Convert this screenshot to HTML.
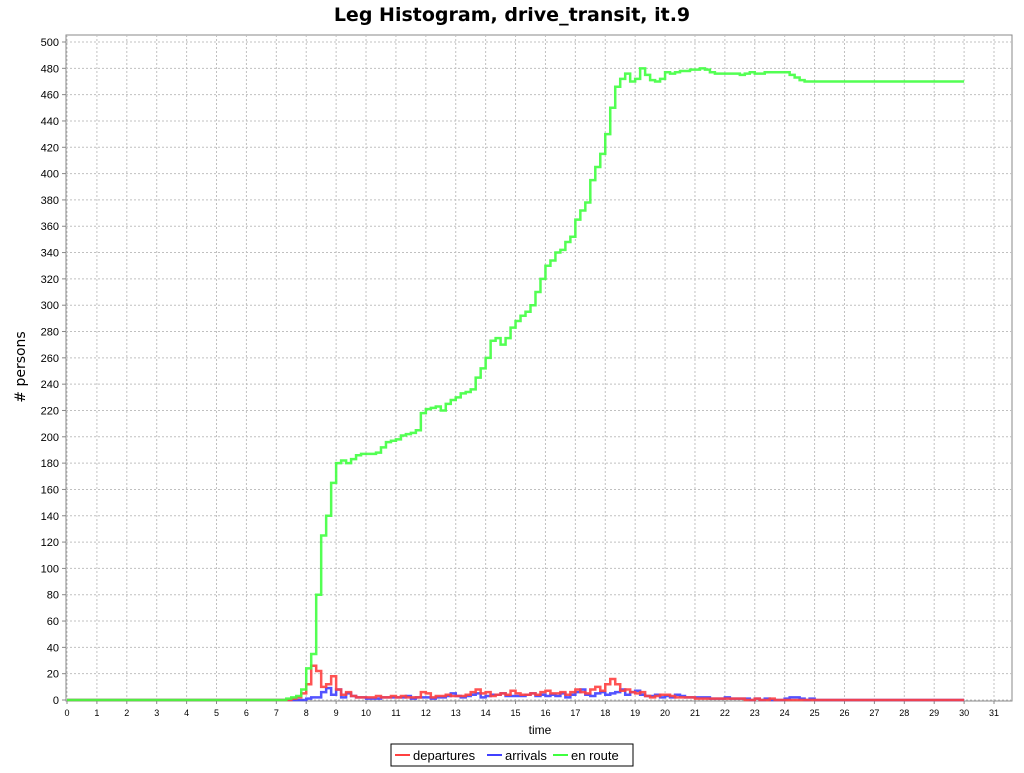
<!DOCTYPE html>
<html><head><meta charset="utf-8"><style>
body{margin:0;background:#fff;font-family:"Liberation Sans",sans-serif}
svg text{font-family:"Liberation Sans",sans-serif}
</style></head><body>
<svg id="c" width="1024" height="768">
<text x="512" y="21" text-anchor="middle" font-size="19" font-weight="bold" style="font-family:'DejaVu Sans',sans-serif">Leg Histogram, drive_transit, it.9</text>
<g id="grid"></g><g id="axes"></g><g id="series"></g>
<text x="540" y="734" text-anchor="middle" font-size="12">time</text>
<text transform="translate(25,367) rotate(-90)" text-anchor="middle" font-size="14" style="font-family:'DejaVu Sans',sans-serif"># persons</text>
<g>
<rect x="391" y="744" width="242" height="22" fill="#fff" stroke="#000" stroke-width="1"/>
<g><line x1="395" y1="755" x2="410" y2="755" stroke="#ff4040" stroke-width="2"/><text x="413" y="760" font-size="13">departures</text></g>
<g><line x1="487" y1="755" x2="502" y2="755" stroke="#4040ff" stroke-width="2"/><text x="505" y="760" font-size="13">arrivals</text></g>
<g><line x1="553" y1="755" x2="568" y2="755" stroke="#40ff40" stroke-width="2"/><text x="571" y="760" font-size="13">en route</text></g>
</g>
</svg>
<script>
const binHours = 1/6, startHour = 7, endHour = 30;
const enRoute = [0,0,1,2,3,8, 24,35,80,125,140,165, 180,182,180,183,186,187, 187,187,188,192,196,197, 198,201,202,203,205,218, 221,222,223,220,225,228, 230,233,234,236,245,252, 260,273,275,270,275,283, 288,292,295,300,310,320, 330,334,340,342,348,352, 365,372,378,395,405,415, 430,450,466,472,476,470, 472,480,475,471,470,472, 477,476,477,478,478,479, 479,480,479,477,476,476, 476,476,476,475,476,477, 476,476,477,477,477,477, 477,475,473,471,470,470, 470,470,470,470,470,470, 470,470,470,470,470,470, 470,470,470,470,470,470, 470,470,470,470,470,470, 470,470,470,470,470,470];
const departures = [0,0,0,1,2,5, 12,26,22,10,12,18, 8,4,6,3,2,2, 2,2,3,2,2,3, 2,3,2,2,2,6, 5,2,3,3,4,3, 3,3,4,6,8,5, 6,3,4,5,4,7, 5,4,4,5,4,6, 7,5,5,6,4,6, 8,6,5,8,10,7, 12,16,12,7,8,6, 5,6,3,2,3,4, 4,3,2,2,2,2, 1,1,1,1,1,1, 1,1,1,1,0,0, 1,0,0,1,0,0, 0,0,0,0,0,0];
const arrivals = [0,0,0,0,0,0, 1,2,2,6,9,4, 8,2,5,3,2,2, 1,1,1,2,2,2, 2,2,3,1,2,2, 2,1,2,2,3,5, 3,2,3,4,5,2, 3,4,4,5,3,3, 3,3,4,5,3,4, 3,4,3,5,2,4, 6,8,4,3,5,6, 4,5,6,8,4,6, 7,4,3,3,4,2, 3,2,4,3,2,2, 2,2,2,1,1,1, 2,1,1,1,1,0, 1,0,1,0,0,0, 1,2,2,1,0,1];
const xTicks = [0,1,2,3,4,5,6,7,8,9,10,11,12,13,14,15,16,17,18,19,20,21,22,23,24,25,26,27,28,29,30,31];
const yTicks = [0,20,40,60,80,100,120,140,160,180,200,220,240,260,280,300,320,340,360,380,400,420,440,460,480,500];

const L=66,R=1012,T=35,B=700;
const X=h=>67+h*(994-67)/31;
const Y=v=>700-v*(700-42)/500;
const NS="http://www.w3.org/2000/svg";
function mk(tag,attrs,parent){const e=document.createElementNS(NS,tag);for(const k in attrs)e.setAttribute(k,attrs[k]);parent.appendChild(e);return e;}
const grid=document.getElementById('grid'),axes=document.getElementById('axes'),ser=document.getElementById('series');
const bg=mk('rect',{x:L,y:T,width:R-L,height:B-T+1,fill:'#fff',stroke:'#888'},grid);


xTicks.forEach(t=>{
  const gl=mk('line',{x1:X(t),x2:X(t),y1:T,y2:B,stroke:'#c0c0c0','stroke-dasharray':'2,2'},grid);
  
  
  mk('line',{x1:X(t),x2:X(t),y1:B+1,y2:B+4,stroke:'#888'},axes);
  const tx=mk('text',{x:X(t),y:716,'text-anchor':'middle','font-size':9},axes);tx.textContent=t;
  
  
});
yTicks.forEach(t=>{
  const gl=mk('line',{x1:L,x2:R,y1:Y(t),y2:Y(t),stroke:'#c0c0c0','stroke-dasharray':'2,2'},grid);
  
  
  mk('line',{x1:L-4,x2:L,y1:Y(t),y2:Y(t),stroke:'#888'},axes);
  const tx=mk('text',{x:L-7,y:Y(t)+4,'text-anchor':'end','font-size':11},axes);tx.textContent=t;
  
  
});
function stepPath(vals){
  let d='M'+X(0)+','+Y(0)+' L'+X(startHour)+','+Y(0);
  vals.forEach((v,i)=>{const h=startHour+i*binHours;d+=' L'+X(h)+','+Y(v)+' L'+X(h+binHours)+','+Y(v);});
  const lastH=startHour+vals.length*binHours;
  if(lastH<endHour){d+=' L'+X(lastH)+','+Y(0)+' L'+X(endHour)+','+Y(0);}
  return d;
}
[[arrivals,'#4040ff','arrivals-line'],[departures,'#ff4040','departures-line'],[enRoute,'#40ff40','en-route-line']].forEach(([v,c,n])=>{
  const p=mk('path',{d:stepPath(v),fill:'none',stroke:c,'stroke-width':2.5,opacity:0.9},ser);
  
  
});
</script>
</body></html>
